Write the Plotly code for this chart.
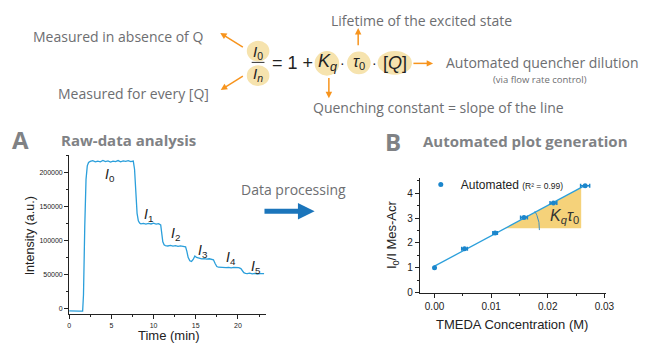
import plotly.graph_objects as go
import numpy as np

# ---------------- data ----------------
time_min = [0.0, 0.4, 0.8, 1.2, 1.6, 1.7, 1.85, 2.0, 2.15, 2.3, 2.5, 2.8, 3.1, 3.4, 3.7, 4.0, 4.3, 4.6,
            4.9, 5.2, 5.5, 5.8, 6.1, 6.4, 6.7, 7.0, 7.3, 7.6, 7.75, 7.9, 8.05, 8.2, 8.35, 8.5, 8.8, 9.1,
            9.4, 9.7, 10.0, 10.3, 10.6, 10.85, 10.95, 11.1, 11.25, 11.4, 11.7, 12.0, 12.3, 12.6, 12.9,
            13.2, 13.5, 13.8, 13.95, 14.1, 14.3, 14.5, 14.7, 14.9, 15.1, 15.4, 15.7, 16.0, 16.3, 16.6,
            16.9, 17.1, 17.3, 17.5, 17.7, 18.0, 18.3, 18.6, 18.9, 19.2, 19.5, 19.8, 20.1, 20.35, 20.5,
            20.7, 20.9, 21.1, 21.4, 21.7, 22.0, 22.3, 22.6, 22.9, 23.1]
intensity = [-3800, -4200, -4000, -4300, -4100, 20000, 120000, 190000, 210000, 215000, 216500, 217500,
             215800, 217000, 216000, 218000, 216200, 217200, 215500, 217000, 216300, 217800, 216000,
             217300, 216500, 217600, 216200, 217000, 205000, 170000, 140000, 129000, 125500, 124500,
             125200, 124000, 125000, 124300, 125400, 124200, 124800, 123000, 112000, 98000, 93500,
             92500, 91800, 92600, 91500, 92300, 91200, 92000, 91400, 90500, 84000, 75000, 70000,
             69000, 72000, 77000, 75000, 73500, 72800, 73200, 72500, 73000, 72600, 71500, 66000,
             61500, 60500, 60000, 60600, 59800, 60400, 59700, 60200, 59900, 60000, 58500, 55000,
             52500, 51500, 51000, 51800, 50800, 51300, 50500, 51000, 50400, 51000]

intensity_ticks = [0, 50000, 100000, 150000, 200000]
intensity_tick_labels = ["0", "50000", "100000", "150000", "200000"]
time_ticks = [0, 5, 10, 15, 20]

level_labels = ["<i>I</i><sub>0</sub>", "<i>I</i><sub>1</sub>", "<i>I</i><sub>2</sub>",
                "<i>I</i><sub>3</sub>", "<i>I</i><sub>4</sub>", "<i>I</i><sub>5</sub>"]
level_label_t = [4.9, 9.4, 12.6, 15.9, 19.2, 22.1]
level_label_i = [196000, 138000, 109000, 84000, 74000, 61000]

tmeda_conc = [0.0, 0.0053, 0.0107, 0.0158, 0.0210, 0.0266]
ratio_i0_i = [1.0, 1.76, 2.40, 3.02, 3.61, 4.30]
conc_err = [0.0, 0.0005, 0.0004, 0.0006, 0.0006, 0.0008]
conc_ticks = [0, 0.01, 0.02, 0.03]
conc_tick_labels = ["0.00", "0.01", "0.02", "0.03"]
ratio_ticks = [0, 1, 2, 3, 4]

# ---------------- helpers ----------------
W, H = 650, 345
def px(x):
    return x / W
def py(y):
    return 1 - y / H

ORANGE = "#f7941d"
CIRCLE = "#f6e3ae"
GRAY_TXT = "#6d6e71"
TITLE_GRAY = "#808285"
LINE_BLUE = "#2b9fdb"
DOT_BLUE = "#1b86cc"
MYRIAD = "Open Sans"
ARIAL = "Liberation Sans"

fig = go.Figure()

# panel A trace
fig.add_trace(go.Scatter(x=time_min, y=intensity, mode="lines", xaxis="x", yaxis="y",
                         line=dict(color=LINE_BLUE, width=1.3), showlegend=False, hoverinfo="skip"))

# panel B fit
slope, intercept = np.polyfit(tmeda_conc, ratio_i0_i, 1)
fx = [tmeda_conc[0], tmeda_conc[-1]]
fy = [intercept + slope * v for v in fx]

tri_x0, tri_x1 = 0.01245, 0.0259
tri_yb = intercept + slope * tri_x0
tri_yt = intercept + slope * tri_x1
fig.add_trace(go.Scatter(x=[tri_x0, tri_x1, tri_x1, tri_x0], y=[tri_yb, tri_yb, tri_yt, tri_yb],
                         mode="lines", fill="toself", fillcolor="#f5d27a", line=dict(width=0),
                         xaxis="x2", yaxis="y2", showlegend=False, hoverinfo="skip"))
# angle arc
xpx_per_unit = 5757.0
ypx_per_unit = 25.25
ang_top = np.arctan(slope * ypx_per_unit / xpx_per_unit)
ang = np.linspace(-0.05, ang_top + 0.03, 30)
r = 35
fig.add_trace(go.Scatter(x=tri_x0 + r * np.cos(ang) / xpx_per_unit,
                         y=tri_yb + r * np.sin(ang) / ypx_per_unit,
                         mode="lines", line=dict(color="#3c8fc2", width=1),
                         xaxis="x2", yaxis="y2", showlegend=False, hoverinfo="skip"))

fig.add_trace(go.Scatter(x=fx, y=fy, mode="lines", line=dict(color=LINE_BLUE, width=1.3),
                         xaxis="x2", yaxis="y2", showlegend=False, hoverinfo="skip"))
fig.add_trace(go.Scatter(x=tmeda_conc, y=ratio_i0_i, mode="markers",
                         marker=dict(color=DOT_BLUE, size=5),
                         error_x=dict(type="data", array=conc_err, color=DOT_BLUE, thickness=1.5, width=2),
                         xaxis="x2", yaxis="y2",
                         name="Automated <span style='font-size:8.5px'>(R² = 0.99)</span>",
                         showlegend=True))

axis_common = dict(showline=True, linecolor="#222", linewidth=1, ticks="outside", ticklen=4,
                   tickwidth=1, tickcolor="#222", showgrid=False, zeroline=False)

fig.update_layout(
    width=W, height=H, margin=dict(l=0, r=0, t=0, b=0),
    paper_bgcolor="white", plot_bgcolor="white",
    xaxis=dict(domain=[px(68.3), px(268.3)], range=[0, 23.3], anchor="y", tickvals=time_ticks,
               tickfont=dict(size=7, family=ARIAL, color="#222"),
               minor=dict(ticks="outside", ticklen=2, dtick=2.5, tick0=0, tickcolor="#222"),
               **axis_common),
    yaxis=dict(domain=[py(320), py(158)], range=[-9100, 225600], anchor="x",
               tickvals=intensity_ticks, ticktext=intensity_tick_labels,
               tickfont=dict(size=7, family=ARIAL, color="#222"),
               minor=dict(ticks="outside", ticklen=2, dtick=25000, tick0=0, tickcolor="#222"),
               **axis_common),
    xaxis2=dict(domain=[px(425), px(613.9)], range=[-0.0026, 0.0302], anchor="y2",
                tickvals=conc_ticks, ticktext=conc_tick_labels,
                tickfont=dict(size=10, family=ARIAL, color="#222"),
                minor=dict(ticks="outside", ticklen=2, dtick=0.005, tick0=0, tickcolor="#222"),
                **axis_common),
    yaxis2=dict(domain=[py(297.7), py(181.5)], range=[0, 4.6], anchor="x2",
                tickvals=ratio_ticks, tickfont=dict(size=10, family=ARIAL, color="#222"),
                minor=dict(ticks="outside", ticklen=2, dtick=0.5, tick0=0, tickcolor="#222"),
                **axis_common),
    legend=dict(x=px(426), y=py(173), xanchor="left", yanchor="top", bgcolor="rgba(0,0,0,0)",
                font=dict(size=12, family=ARIAL, color="#222"), itemwidth=30, tracegroupgap=0),
    showlegend=True,
)

ann = []
shapes = []
def text(x, y, s, size, color=GRAY_TXT, family=MYRIAD, xanchor="center", angle=0):
    ann.append(dict(x=px(x), y=py(y), xref="paper", yref="paper", text=s, showarrow=False,
                    xanchor=xanchor, yanchor="middle", textangle=angle,
                    font=dict(size=size, color=color, family=family)))

def arrow(x_tail, y_tail, x_head, y_head, color=ORANGE, width=1.5, head_len=6.5, head_half=3.3):
    d = np.array([x_head - x_tail, y_head - y_tail], dtype=float)
    d /= np.linalg.norm(d)
    n = np.array([-d[1], d[0]])
    base = np.array([x_head, y_head]) - d * head_len
    shapes.append(dict(type="line", xref="paper", yref="paper",
                       x0=px(x_tail), y0=py(y_tail), x1=px(base[0] + d[0]), y1=py(base[1] + d[1]),
                       line=dict(color=color, width=width)))
    p1 = base + n * head_half
    p2 = base - n * head_half
    path = "M{:.5f},{:.5f} L{:.5f},{:.5f} L{:.5f},{:.5f} Z".format(
        px(x_head), py(y_head), px(p1[0]), py(p1[1]), px(p2[0]), py(p2[1]))
    shapes.append(dict(type="path", xref="paper", yref="paper", path=path,
                       fillcolor=color, line=dict(width=0)))

# top explanatory text
text(30, 37.5, "Measured in absence of Q", 14, xanchor="left")
text(55, 95, "Measured for every [Q]", 14, xanchor="left")
text(427, 20.5, "Lifetime of the excited state", 14)
text(450, 64, "Automated quencher dilution", 14, xanchor="left")
text(547, 81, "(via flow rate control)", 9.5)
text(444, 109, "Quenching constant = slope of the line", 14)

# equation
def ellipse(cx, cy, rx, ry):
    shapes.append(dict(type="circle", xref="paper", yref="paper", x0=px(cx - rx), x1=px(cx + rx),
                       y0=py(cy + ry), y1=py(cy - ry), fillcolor=CIRCLE, line=dict(width=0),
                       layer="below"))
ellipse(260.5, 52, 11.5, 10.5)
ellipse(260.5, 77, 11.5, 10.5)
ellipse(330.5, 64.5, 12.5, 12.5)
ellipse(363, 64, 12, 11.5)
ellipse(399.5, 64, 17.5, 12)
shapes.append(dict(type="line", xref="paper", yref="paper", x0=px(254), x1=px(267),
                   y0=py(63.5), y1=py(63.5), line=dict(color="#333", width=1)))

text(260.5, 53, "<i>I</i><sub>0</sub>", 15, color="#222", family=ARIAL)
text(260.5, 76, "<i>I<sub>n</sub></i>", 15, color="#222", family=ARIAL)
text(296, 64, "= 1 +", 18, color="#222", family=ARIAL)
text(331, 64, "<i>K<sub>q</sub></i>", 18, color="#222", family=ARIAL)
text(346.7, 64, "·", 14, color="#222", family=ARIAL)
text(363, 64, "<i>τ</i><sub>0</sub>", 16, color="#222", family=ARIAL)
text(379.3, 64, "·", 14, color="#222", family=ARIAL)
text(399.5, 64, "[<i>Q</i>]", 18, color="#222", family=ARIAL)

arrow(245, 48, 222, 33.5)
arrow(245, 77.5, 222.5, 91.5)
arrow(362.3, 46, 362.3, 28.5)
arrow(332.5, 79.5, 332.5, 100)
arrow(418.5, 64.5, 438.5, 64.5)

# panel titles
text(19, 142, "<b>A</b>", 24, color=TITLE_GRAY)
text(58, 142, "<b>Raw-data analysis</b>", 15, color=TITLE_GRAY, xanchor="left")
text(398, 143.5, "<b>B</b>", 24, color=TITLE_GRAY)
text(426, 144, "<b>Automated plot generation</b>", 15, color=TITLE_GRAY, xanchor="left")

# data processing arrow
text(297, 193, "Data processing", 14, color=GRAY_TXT)
arrow(267, 215, 318, 215, color="#1b75bb", width=5, head_len=17, head_half=8.5)

# axis titles
text(28, 240, "Intensity (a.u.)", 12.5, color="#222", family=ARIAL, angle=-90)
text(170, 341, "Time (min)", 13, color="#222", family=ARIAL)
text(398, 239, "I<sub>0</sub>/I Mes-Acr", 13, color="#222", family=ARIAL, angle=-90)
text(519, 330, "TMEDA Concentration (M)", 13, color="#222", family=ARIAL)

# level labels on panel A
for lab, t, v in zip(level_labels, level_label_t, level_label_i):
    ann.append(dict(x=t, y=v, xref="x", yref="y", text=lab, showarrow=False,
                    font=dict(size=14, color="#222", family=ARIAL)))

# K_q tau_0 label
ann.append(dict(x=0.0229, y=3.08, xref="x2", yref="y2",
                text="<i>K<sub>q</sub>τ</i><sub>0</sub>", showarrow=False,
                font=dict(size=16, color="#333", family=ARIAL)))

fig.update_layout(annotations=ann, shapes=shapes)
fig.write_html("out.html", config={"displayModeBar": False},
               post_script="document.body.style.margin='0';document.body.style.padding='0';"
                           "document.body.style.overflow='hidden';")
